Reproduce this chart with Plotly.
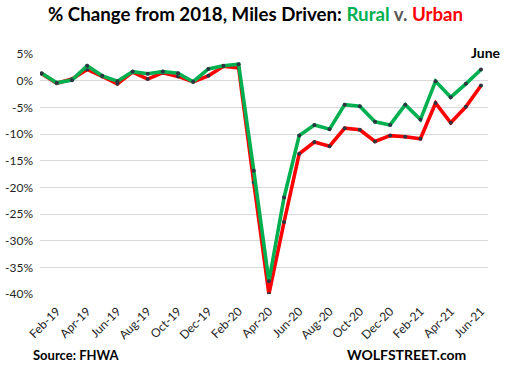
import plotly.graph_objects as go

months = ["Jan-19", "Feb-19", "Mar-19", "Apr-19", "May-19", "Jun-19", "Jul-19", "Aug-19",
          "Sep-19", "Oct-19", "Nov-19", "Dec-19", "Jan-20", "Feb-20", "Mar-20", "Apr-20",
          "May-20", "Jun-20", "Jul-20", "Aug-20", "Sep-20", "Oct-20", "Nov-20", "Dec-20",
          "Jan-21", "Feb-21", "Mar-21", "Apr-21", "May-21", "Jun-21"]

rural = [1.4, -0.4, 0.1, 2.8, 0.9, -0.1, 1.7, 1.3, 1.7, 1.4, -0.2, 2.2, 2.8, 3.1,
         -16.9, -37.6, -21.9, -10.3, -8.3, -9.1, -4.5, -4.8, -7.7, -8.3, -4.5, -7.3,
         -0.1, -3.1, -0.6, 2.1]

urban = [1.3, -0.5, 0.3, 2.1, 0.8, -0.6, 1.6, 0.3, 1.5, 0.8, -0.2, 0.9, 2.7, 2.4,
         -19.1, -40.0, -26.5, -13.7, -11.5, -12.3, -8.9, -9.2, -11.4, -10.3, -10.5, -10.9,
         -4.2, -7.9, -4.9, -0.9]

y_ticks = [5, 0, -5, -10, -15, -20, -25, -30, -35, -40]
y_tick_labels = ["5%", "0%", "-5%", "-10%", "-15%", "-20%", "-25%", "-30%", "-35%", "-40%"]
x_tick_labels = months[1::2]

GREEN = "#00B050"
RED = "#FF0000"
DOT = "#2E3440"
FONT = "Lato"

fig = go.Figure()
fig.add_trace(go.Scatter(x=months, y=urban, mode="lines+markers", name="Urban",
                         line=dict(color=RED, width=3.6),
                         marker=dict(color=DOT, size=4)))
fig.add_trace(go.Scatter(x=months, y=rural, mode="lines+markers", name="Rural",
                         line=dict(color=GREEN, width=3.6),
                         marker=dict(color=DOT, size=4)))

n = len(months)
xr = [-0.11, n - 1 + 0.46]
yr = [min(y_ticks), max(y_ticks)]

title_text = ("<b>% Change from 2018, Miles Driven: "
              "<span style='color:" + GREEN + "'>Rural</span> "
              "<span style='color:#595959'>v.</span> "
              "<span style='color:" + RED + "'>Urban</span></b>")

fig.update_layout(
    width=506, height=370,
    margin=dict(l=40, r=18, t=54, b=76),
    paper_bgcolor="white", plot_bgcolor="white",
    showlegend=False,
    font=dict(family=FONT, size=12, color="#262626"),
    xaxis=dict(type="category", range=xr, tickmode="array", tickvals=x_tick_labels,
               ticktext=x_tick_labels, tickangle=-45, showgrid=False, showline=False,
               ticks="", zeroline=False, ticklabelstandoff=7, automargin=False,
               tickfont=dict(family=FONT, size=12, color="#262626")),
    xaxis2=dict(overlaying="x", anchor="free", position=(0 - yr[0]) / (yr[1] - yr[0]),
                range=xr, type="linear", showline=True, linecolor="black", linewidth=1,
                ticks="outside", ticklen=5, tickcolor="black", tickwidth=1,
                tickmode="array", tickvals=[i + 0.5 for i in range(0, n - 1, 2)],
                showticklabels=False, showgrid=False, zeroline=False, automargin=False),
    yaxis=dict(range=yr, tickmode="array", tickvals=y_ticks, ticktext=y_tick_labels,
               showgrid=True, gridcolor="#D9D9D9", gridwidth=1, zeroline=False,
               showline=False, ticks="", ticklabelstandoff=6, automargin=False,
               tickfont=dict(family=FONT, size=12, color="#262626")),
)

fig.add_annotation(x=0.48, y=1.1667, xref="paper", yref="paper", text=title_text,
                   showarrow=False, xanchor="center", yanchor="middle",
                   font=dict(family=FONT, size=18.7, color="black"))
fig.add_annotation(x=months[-1], y=rural[-1], xref="x", yref="y", text="<b>June</b>",
                   showarrow=False, xanchor="center", yanchor="bottom", xshift=5, yshift=6,
                   font=dict(family=FONT, size=14, color="black"))
fig.add_annotation(x=-0.02, y=-0.254, xref="paper", yref="paper", yanchor="middle",
                   xanchor="left", text="<b>Source: FHWA</b>", showarrow=False,
                   font=dict(family=FONT, size=13, color="black"))
fig.add_annotation(x=0.681, y=-0.254, xref="paper", yref="paper", yanchor="middle",
                   xanchor="left", text="<b>WOLFSTREET.com</b>", showarrow=False,
                   font=dict(family=FONT, size=14, color="black"))

fig.write_html("out.html", post_script="document.body.style.margin='0';",
               config={"displayModeBar": False})
